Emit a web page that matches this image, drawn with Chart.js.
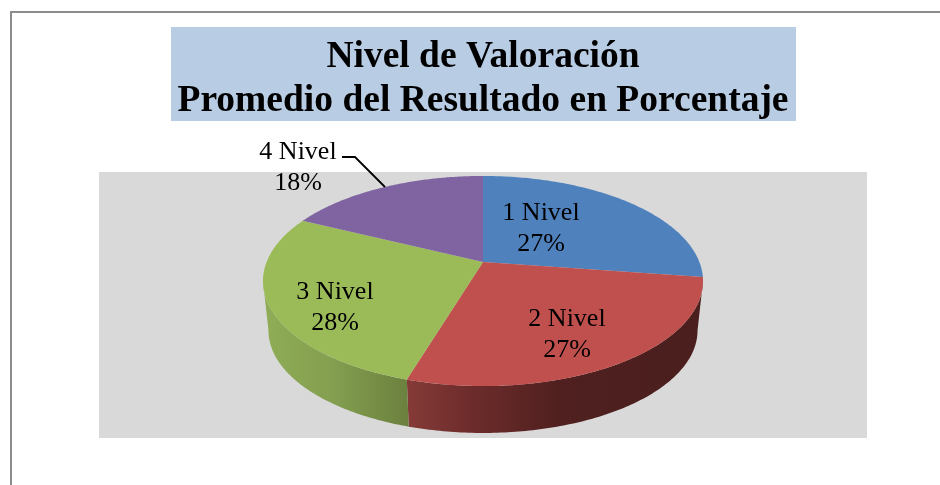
<!DOCTYPE html>
<html>
<head>
<meta charset="utf-8">
<script src="https://cdn.jsdelivr.net/npm/chart.js@4"></script>
<style>
html, body { margin: 0; padding: 0; background: #fff; }
#wrap { position: relative; width: 940px; height: 485px; overflow: hidden; }
#frame { position: absolute; left: 10px; top: 11px; right: 0; bottom: 0; border-left: 2px solid #8c8c8c; border-top: 2px solid #8c8c8c; }
canvas { position: absolute; left: 0; top: 0; }
</style>
</head>
<body>
<div id="wrap">
  <div id="frame"></div>
  <canvas id="pie" width="940" height="485"></canvas>
</div>
<script>
const categories = ['1 Nivel', '2 Nivel', '3 Nivel', '4 Nivel'];
const values = [27.3, 27.4, 27.5, 17.8];
const titleLines = ['Nivel de Valoración', 'Promedio del Resultado en Porcentaje'];

const topColors = ['#4f81bd', '#c0504d', '#9bbb59', '#8064a2'];
// label centres, [x, y] of the first line
const labelPos = [[541, 213], [567, 319], [335, 292], [298, 152]];

// Excel style tilted disc, ratios are relative to the chart's outer radius
const TILT = 0.181, SCALE_X = 1.627, SCALE_Y = 0.764, APEX_UP = 43, DEPTH = 50;

function project(arc, angle, shrink, drop) {
    const u = Math.cos(angle), v = Math.sin(angle);
    const d = 1 - TILT * v;
    return [
        arc.x + shrink * arc.outerRadius * SCALE_X * u / d,
        arc.y - APEX_UP + drop + shrink * arc.outerRadius * SCALE_Y * v / d
    ];
}

function traceArc(ctx, arc, from, to, shrink, drop) {
    const steps = 120;
    for (let i = 0; i <= steps; i++) {
        const p = project(arc, from + (to - from) * i / steps, shrink, drop);
        ctx.lineTo(p[0], p[1]);
    }
}

const wallStops = {
    1: [[410, '#843a37'], [470, '#6d2c2b'], [560, '#4f201f'], [700, '#4a1f1d']],
    2: [[264, '#8fac56'], [330, '#84a050'], [409, '#6b803e']]
};

const tiltedPie = {
    id: 'tiltedPie',
    beforeDraw(chart) {
        const ctx = chart.ctx, area = chart.chartArea;
        ctx.save();
        ctx.fillStyle = '#d9d9d9';
        ctx.fillRect(area.left, area.top, area.right - area.left, area.bottom - area.top);
        ctx.fillStyle = '#b8cce4';
        ctx.fillRect(171, 27, 625, 94);
        ctx.restore();
    },
    beforeDatasetDraw(chart) {
        const ctx = chart.ctx;
        const arcs = chart.getDatasetMeta(0).data;
        // the wall only shows between the two widest points of the disc
        const edge = Math.asin(TILT);
        ctx.save();
        arcs.forEach((arc, i) => {
            if (!wallStops[i]) return;
            const from = Math.max(arc.startAngle, edge);
            const to = Math.min(arc.endAngle, Math.PI - edge);
            const x0 = wallStops[i][0][0], x1 = wallStops[i][wallStops[i].length - 1][0];
            const g = ctx.createLinearGradient(x0, 0, x1, 0);
            wallStops[i].forEach(s => g.addColorStop((s[0] - x0) / (x1 - x0), s[1]));
            ctx.beginPath();
            traceArc(ctx, arc, from, to, 1, 0);
            traceArc(ctx, arc, to, from, 0.975, DEPTH);
            ctx.closePath();
            ctx.fillStyle = g;
            ctx.fill();
        });
        arcs.forEach((arc, i) => {
            const apex = project(arc, 0, 0, 0);
            ctx.beginPath();
            ctx.moveTo(apex[0], apex[1]);
            traceArc(ctx, arc, arc.startAngle, arc.endAngle, 1, 0);
            ctx.closePath();
            ctx.fillStyle = topColors[i];
            ctx.fill();
        });
        ctx.restore();
        return false;
    },
    afterDatasetsDraw(chart) {
        const ctx = chart.ctx;
        ctx.save();
        ctx.strokeStyle = '#000';
        ctx.lineWidth = 1.8;
        ctx.beginPath();
        ctx.moveTo(342, 157);
        ctx.lineTo(355, 157);
        ctx.lineTo(385, 187);
        ctx.stroke();
        ctx.fillStyle = '#000';
        ctx.font = '26px "Liberation Serif"';
        ctx.textAlign = 'center';
        ctx.textBaseline = 'middle';
        categories.forEach((name, i) => {
            ctx.fillText(name, labelPos[i][0], labelPos[i][1]);
            ctx.fillText(Math.round(values[i]) + '%', labelPos[i][0], labelPos[i][1] + 31);
        });
        ctx.restore();
    }
};

new Chart(document.getElementById('pie').getContext('2d'), {
    type: 'pie',
    data: {
        labels: categories,
        datasets: [{ data: values, backgroundColor: topColors, borderWidth: 0 }]
    },
    options: {
        responsive: false,
        animation: false,
        layout: { padding: { left: 99, right: 73, top: 27, bottom: 47 } },
        plugins: {
            legend: { display: false },
            tooltip: { enabled: false },
            title: {
                display: true,
                text: titleLines,
                color: '#000',
                font: { family: '"Liberation Serif"', size: 37.5, weight: 'bold', lineHeight: '44px' },
                padding: { top: 8, bottom: 49 }
            }
        }
    },
    plugins: [tiltedPie]
});
</script>
</body>
</html>
